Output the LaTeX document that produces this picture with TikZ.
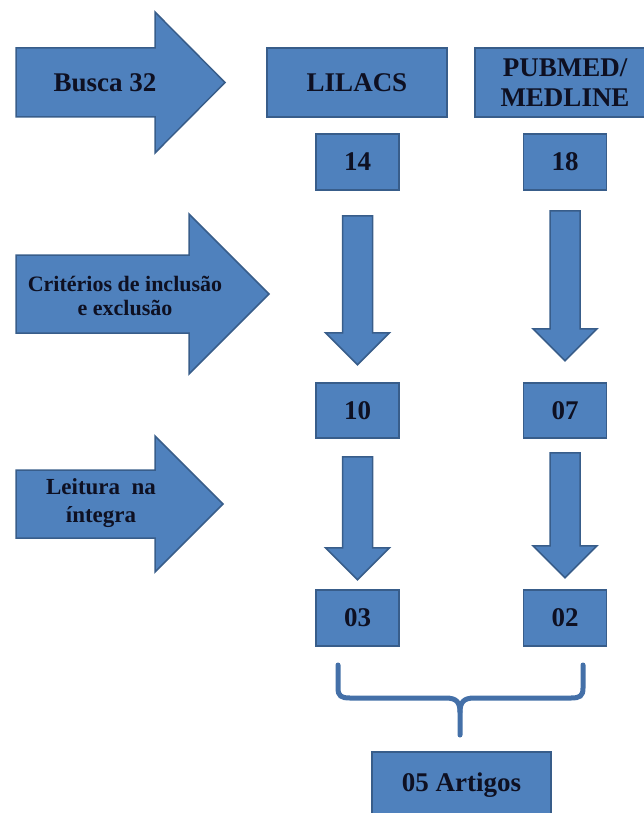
\documentclass[tikz,border=0pt]{standalone}
\usepackage{fontspec}
\setmainfont{Liberation Serif}[BoldFont={Liberation Serif Bold}]
\definecolor{boxblue}{RGB}{79,129,189}
\definecolor{edgeblue}{RGB}{56,93,138}
\definecolor{braceblue}{RGB}{68,112,168}
\definecolor{ink}{RGB}{14,16,34}
\usetikzlibrary{calc}

\begin{document}
\begin{tikzpicture}[x=1pt,y=-1pt,text=ink,
        face/.style={draw=edgeblue,fill=boxblue,line width=1.5pt,inner sep=0pt},
        big/.style={font=\rmfamily\fontsize{27}{30}\selectfont\bfseries,align=center},
        blk/.style={draw=edgeblue,fill=boxblue,line width=1.5pt},
        brace/.style={draw=braceblue,line width=5pt,line cap=round}]
        \useasboundingbox (0,0) rectangle (644,813);
        % block arrows on the left
        \draw[blk] (16,48) -- ++(139,0) -- ++(0,-36) -- ++(70,70.5) -- ++(-70,70.5) -- ++(0,-36) -- ++(-139,0) -- cycle;
        \draw[blk] (16,255) -- ++(173,0) -- ++(0,-41) -- ++(80,80) -- ++(-80,80) -- ++(0,-41) -- ++(-173,0) -- cycle;
        \draw[blk] (16,470) -- ++(139,0) -- ++(0,-34) -- ++(68,68) -- ++(-68,68) -- ++(0,-34) -- ++(-139,0) -- cycle;
        \node[big] (busca) at (105,83) {Busca 32};
        \node[font=\rmfamily\fontsize{22}{24}\selectfont\bfseries,align=center] (crit) at (125,296) {Critérios de inclusão\\e exclusão};
        \node[font=\rmfamily\fontsize{23}{28}\selectfont\bfseries,align=center] (leit) at (101,503) {Leitura~~na\\íntegra};
        % bases
        \node[face,big,minimum width=180pt,minimum height=69pt] (lilacs) at (357,82.5) {LILACS};
        \node[face,big,minimum width=180pt,minimum height=69pt] (pubmed) at (565,82.5) {PUBMED/\\MEDLINE};
        \node[face,big,minimum width=83pt,minimum height=56pt] (n14) at (357.5,162) {14};
        \node[face,big,minimum width=83pt,minimum height=56pt] (n18) at (565,162) {18};
        \node[face,big,minimum width=83pt,minimum height=55pt] (n10) at (357.5,410.5) {10};
        \node[face,big,minimum width=83pt,minimum height=55pt] (n07) at (565,410.5) {07};
        \node[face,big,minimum width=83pt,minimum height=56pt] (n03) at (357.5,618) {03};
        \node[face,big,minimum width=83pt,minimum height=56pt] (n02) at (565,618) {02};
        \node[face,big,minimum width=179pt,minimum height=66pt] (art) at (461.5,785) {05 Artigos};
        % down arrows
        \draw[blk] ($(n14.south)+(-15,25)$) -- ++(30,0) -- ++(0,117) -- ++(17,0) -- ++(-32,32) -- ++(-32,-32) -- ++(17,0) -- cycle;
        \draw[blk] ($(n18.south)+(-15,20)$) -- ++(30,0) -- ++(0,118) -- ++(17,0) -- ++(-32,32) -- ++(-32,-32) -- ++(17,0) -- cycle;
        \draw[blk] ($(n10.south)+(-15,18)$) -- ++(30,0) -- ++(0,91) -- ++(17,0) -- ++(-32,32) -- ++(-32,-32) -- ++(17,0) -- cycle;
        \draw[blk] ($(n07.south)+(-15,14)$) -- ++(30,0) -- ++(0,93) -- ++(17,0) -- ++(-32,32) -- ++(-32,-32) -- ++(17,0) -- cycle;
        % brace
        \draw[brace] (338,665) -- (338,688) .. controls (338,696) and (341,698) .. (350,698) -- (446,698) .. controls (456,698) and (460,702) .. (460,712) -- (460,735);
        \draw[brace] (583,665) -- (583,688) .. controls (583,696) and (580,698) .. (571,698) -- (474,698) .. controls (464,698) and (460,702) .. (460,712);
      \end{tikzpicture}
\end{document}
